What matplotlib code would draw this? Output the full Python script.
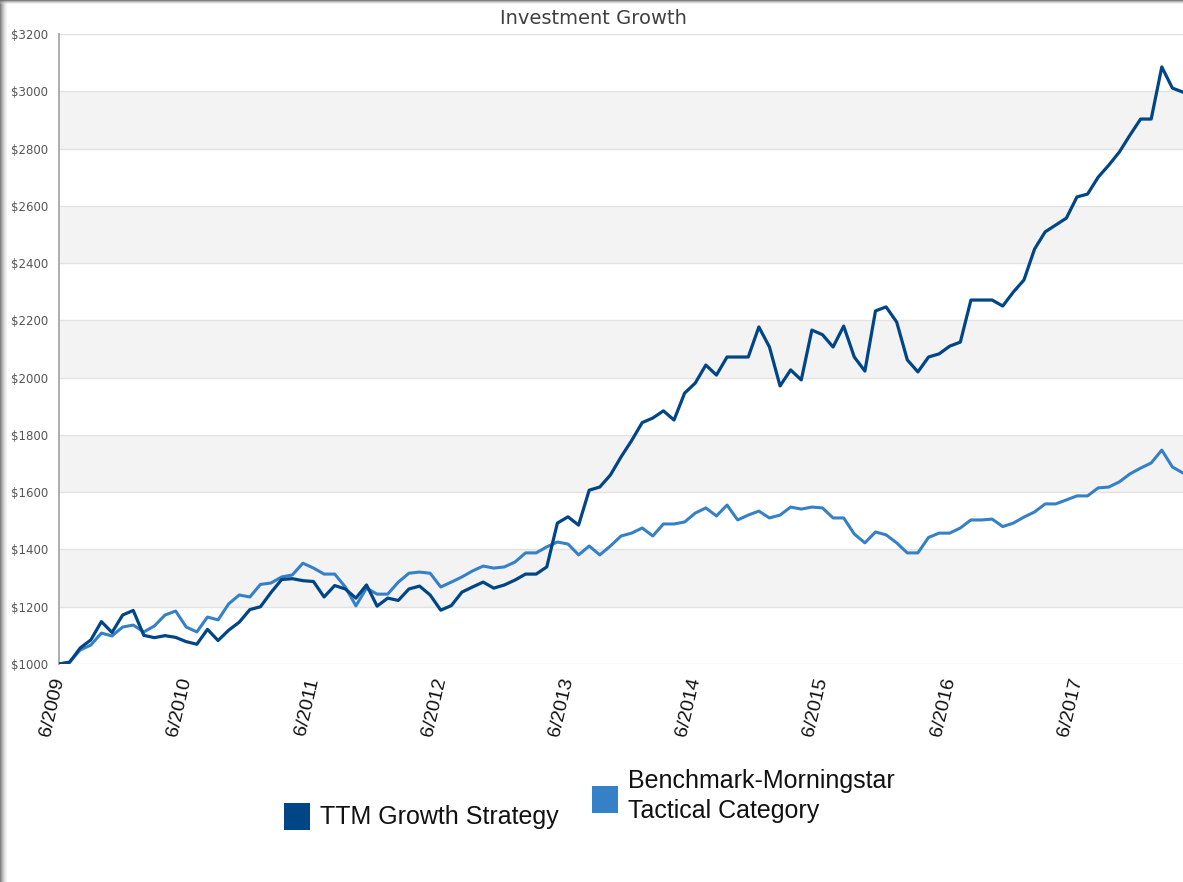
"""
Investment Growth chart: TTM Growth Strategy against the Morningstar
    Tactical Category benchmark, monthly values of a $1000 investment
"""

import numpy as np
import matplotlib.pyplot as plt
from matplotlib.patches import Rectangle

title = "Investment Growth"
series_names = ["TTM Growth Strategy", "Benchmark-Morningstar\nTactical Category"]
tick_labels = ["6/2009", "6/2010", "6/2011", "6/2012", "6/2013",
               "6/2014", "6/2015", "6/2016", "6/2017"]
y_ticks = [1000, 1200, 1400, 1600, 1800, 2000, 2200, 2400, 2600, 2800, 3000, 3200]

# monthly values, starting 6/2009
ttm_growth = [1000, 1006, 1056, 1084, 1148, 1110, 1171, 1187, 1100, 1092,
              1099, 1093, 1078, 1069, 1121, 1082, 1118, 1146, 1190, 1200,
              1250, 1295, 1298, 1291, 1288, 1234, 1274, 1262, 1230, 1276,
              1202, 1230, 1222, 1262, 1272, 1241, 1188, 1204, 1251, 1269,
              1286, 1265, 1276, 1293, 1314, 1314, 1339, 1492, 1514, 1485,
              1607, 1618, 1660, 1723, 1780, 1843, 1859, 1884, 1852, 1946,
              1981, 2044, 2009, 2072, 2072, 2072, 2177, 2107, 1971, 2027,
              1992, 2166, 2150, 2107, 2180, 2072, 2023, 2233, 2247, 2194,
              2062, 2020, 2072, 2083, 2110, 2124, 2271, 2271, 2271, 2250,
              2299, 2341, 2449, 2509, 2533, 2557, 2631, 2641, 2700, 2742,
              2788, 2847, 2903, 2903, 3085, 3011, 2997]

benchmark = [1000, 1007, 1049, 1066, 1108, 1098, 1129, 1136, 1112, 1133,
             1171, 1185, 1129, 1112, 1164, 1154, 1210, 1241, 1234, 1278,
             1283, 1304, 1311, 1352, 1335, 1314, 1314, 1269, 1203, 1265,
             1244, 1244, 1286, 1317, 1321, 1317, 1269, 1286, 1304, 1325,
             1342, 1335, 1339, 1356, 1388, 1388, 1409, 1426, 1419, 1381,
             1412, 1381, 1412, 1447, 1457, 1475, 1447, 1489, 1489, 1496,
             1527, 1545, 1517, 1555, 1503, 1520, 1534, 1510, 1520, 1548,
             1541, 1548, 1545, 1510, 1510, 1454, 1423, 1461, 1451, 1423,
             1388, 1388, 1442, 1457, 1457, 1475, 1503, 1503, 1506, 1480,
             1492, 1513, 1531, 1559, 1559, 1573, 1587, 1587, 1615, 1618,
             1636, 1664, 1684, 1702, 1747, 1688, 1667]

dark_blue = '#004586'
light_blue = '#3580c6'

W, H = 1183, 882
months = np.arange(len(ttm_growth))

fig = plt.figure(figsize=(W / 100, H / 100), dpi=100)
ax = fig.add_axes([59 / W, 1 - 664 / H, 1 - 59 / W, (664 - 34) / H])

# alternating gray bands between the gridlines
for low, high in zip(y_ticks[1::2], y_ticks[2::2]):
    ax.axhspan(low, high, color='#f3f3f3', zorder=0, lw=0)

ax.plot(months, benchmark, color=light_blue, lw=2.2, zorder=3)
ax.plot(months, ttm_growth, color=dark_blue, lw=2.3, zorder=4)

ax.set_xlim(0, len(months) - 1)
ax.set_ylim(y_ticks[0], y_ticks[-1])

ax.set_yticks(y_ticks)
ax.set_yticklabels(["${}".format(v) for v in y_ticks],
                   fontsize=8.5, color='#555555', family='DejaVu Sans')
ax.set_xticks(months[::12][:len(tick_labels)])
ax.set_xticklabels(tick_labels, rotation=77, ha='right', va='center',
                   rotation_mode='anchor', fontsize=14, color='#111111',
                   family='Liberation Sans')
ax.tick_params(axis='y', length=0, pad=8)
ax.tick_params(axis='x', length=0, pad=10)

ax.grid(axis='y', color='#e2e2e2', lw=1, zorder=1)
ax.set_axisbelow(True)
for side in ['top', 'right', 'bottom']:
    ax.spines[side].set_visible(False)
ax.spines['left'].set_color('#a8a8a8')
ax.spines['left'].set_linewidth(1.3)

fig.text(0.502, 1 - 19 / H, title, ha='center', va='center',
         fontsize=14, color='#404040', family='DejaVu Sans')

# legend below the plot
legend_items = [
    (dark_blue, 284, 803, 817, series_names[0]),
    (light_blue, 592, 786, 796, series_names[1]),
]
for color, x0, y0, ty, label in legend_items:
    fig.add_artist(Rectangle((x0 / W, 1 - (y0 + 27) / H), 26 / W, 27 / H,
                             transform=fig.transFigure, color=color, lw=0))
    fig.text((x0 + 36) / W, 1 - ty / H, label, ha='left', va='center',
             fontsize=18, color='#111111', family='Liberation Sans',
             linespacing=1.3)

# screenshot shadow along the left and top edges
for k in range(8):
    shade = str(0.45 + k * 0.07)
    fig.add_artist(Rectangle((k / W, 0), 1 / W, 1, transform=fig.transFigure,
                             color=shade, lw=0, alpha=0.9 - k * 0.1))
for k in range(4):
    shade = str(0.45 + k * 0.12)
    fig.add_artist(Rectangle((0, 1 - (k + 1) / H), 1, 1 / H, transform=fig.transFigure,
                             color=shade, lw=0, alpha=0.9 - k * 0.2))

fig.savefig('out.png', dpi=100)
